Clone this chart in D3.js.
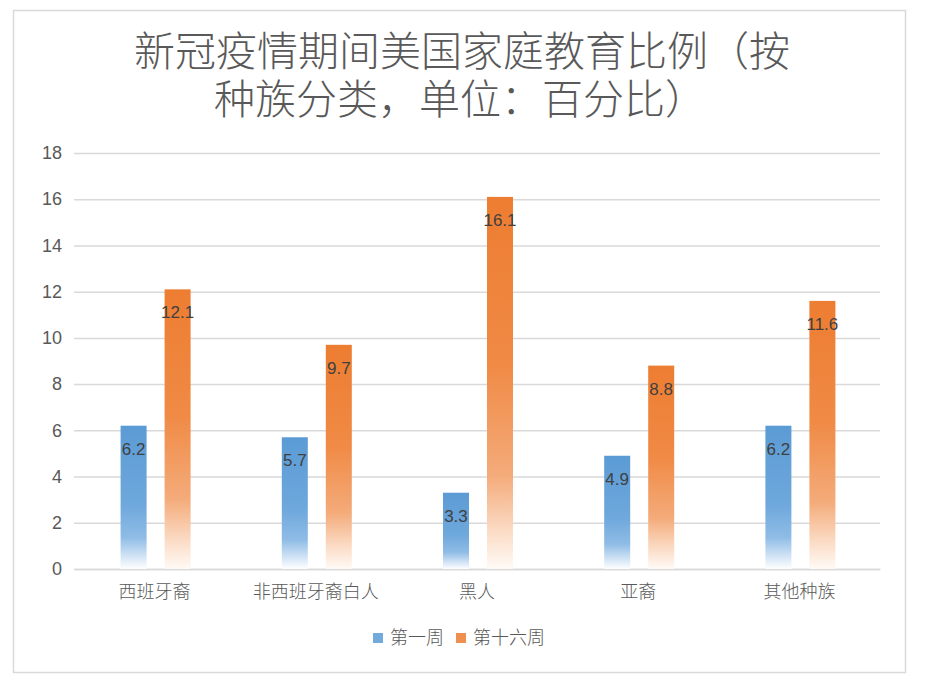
<!DOCTYPE html>
<html>
<head>
<meta charset="utf-8">
<script src="https://cdn.jsdelivr.net/npm/d3@7"></script>
<style>
  body { margin: 0; background: #fff; }
  svg { display: block; }
</style>
</head>
<body>
<svg id="chart" width="928" height="696"></svg>
<script>
// Chart data
const titleLines = ["新冠疫情期间美国家庭教育比例（按", "种族分类，单位：百分比）"];
const categories = ["西班牙裔", "非西班牙裔白人", "黑人", "亚裔", "其他种族"];
const seriesNames = ["第一周", "第十六周"];
const week1 = [6.2, 5.7, 3.3, 4.9, 6.2];
const week16 = [12.1, 9.7, 16.1, 8.8, 11.6];
const yTicks = [0, 2, 4, 6, 8, 10, 12, 14, 16, 18];

const seriesValues = [week1, week16];
const rows = categories.map((c, i) => ({ cat: c, values: seriesValues.map(s => s[i]) }));

const svg = d3.select("#chart");
const width = 928, height = 696;
const margin = { left: 74, right: 48, top: 153, bottom: 127 };

const cjk = "'Noto Sans CJK SC', 'Noto Sans', sans-serif";
const latin = "'Liberation Sans', 'DejaVu Sans', sans-serif";

// Outer frame
svg.append("rect")
    .attr("x", 13.5).attr("y", 10.5)
    .attr("width", 892).attr("height", 662)
    .attr("fill", "#fff")
    .attr("stroke", "#d9d9d9")
    .attr("stroke-width", 1.5);

// Gradients for the bars (fade to white at the bottom)
const defs = svg.append("defs");
const gradStops = [
    [[0, "#5b9bd5"], [0.55, "#6ea8dc"], [0.78, "#8fbce6"], [0.92, "#d6e6f6"], [1, "#ffffff"]],
    [[0, "#ed7d31"], [0.45, "#f08a45"], [0.75, "#f4ab7a"], [0.9, "#fbdcc6"], [1, "#fffaf6"]]
];
gradStops.forEach((stops, i) => {
    const g = defs.append("linearGradient")
        .attr("id", "grad" + i)
        .attr("x1", 0).attr("y1", 0).attr("x2", 0).attr("y2", 1);
    stops.forEach(s => g.append("stop").attr("offset", s[0]).attr("stop-color", s[1]));
});

// Scales
const x0 = d3.scaleBand()
    .domain(categories)
    .range([margin.left, width - margin.right])
    .padding(0);

const pairWidth = 70;
const x1 = d3.scaleBand()
    .domain(d3.range(seriesNames.length))
    .range([x0.bandwidth() / 2 - pairWidth / 2 + 1, x0.bandwidth() / 2 + pairWidth / 2 + 1])
    .paddingInner(18 / 44);

const y = d3.scaleLinear()
    .domain([0, 18])
    .range([height - margin.bottom, margin.top]);

// Title, two lines in one text element
const title = svg.append("text")
    .attr("text-anchor", "middle")
    .attr("font-family", cjk)
    .attr("font-size", 41)
    .attr("font-weight", 300)
    .attr("fill", "#595959");
title.selectAll("tspan")
    .data(titleLines)
    .join("tspan")
    .attr("x", (d, i) => i === 0 ? 462 : 460)
    .attr("y", (d, i) => 66 + i * 48)
    .text(d => d);

// Gridlines + y axis labels
const yAxis = d3.axisLeft(y)
    .tickValues(yTicks)
    .tickSize(-(width - margin.left - margin.right))
    .tickPadding(12);

const yg = svg.append("g")
    .attr("transform", `translate(${margin.left},0)`)
    .call(yAxis);
yg.select(".domain").remove();
yg.selectAll(".tick line")
    .attr("stroke", "#d9d9d9")
    .attr("stroke-width", 1.5);
yg.selectAll(".tick text")
    .attr("font-family", latin)
    .attr("font-size", 18)
    .attr("fill", "#595959");

// x axis labels
const xAxis = d3.axisBottom(x0).tickSize(0).tickPadding(16);
const xg = svg.append("g")
    .attr("transform", `translate(0,${height - margin.bottom})`)
    .call(xAxis);
xg.select(".domain")
    .attr("stroke", "#d9d9d9")
    .attr("stroke-width", 1.5);
xg.selectAll(".tick text")
    .attr("font-family", cjk)
    .attr("font-size", 18)
    .attr("font-weight", 300)
    .attr("fill", "#595959");

// Bars
const groups = svg.append("g")
    .selectAll("g")
    .data(rows)
    .join("g")
    .attr("transform", d => `translate(${x0(d.cat)},0)`);

groups.selectAll("rect")
    .data(d => d.values.map((v, i) => ({ v, i })))
    .join("rect")
    .attr("x", d => x1(d.i))
    .attr("width", x1.bandwidth())
    .attr("y", d => y(d.v))
    .attr("height", d => y(0) - y(d.v))
    .attr("fill", d => `url(#grad${d.i})`);

// Value labels
groups.selectAll("text")
    .data(d => d.values.map((v, i) => ({ v, i })))
    .join("text")
    .attr("x", d => x1(d.i) + x1.bandwidth() / 2)
    .attr("y", d => y(d.v) + 29)
    .attr("text-anchor", "middle")
    .attr("font-family", latin)
    .attr("font-size", 17)
    .attr("fill", "#404040")
    .text(d => d.v);

// Legend
const legendX = [373, 456];
const legendColors = ["#5b9bd5", "#ed7d31"];
const legend = svg.append("g")
    .selectAll("g")
    .data(seriesNames)
    .join("g")
    .attr("transform", (d, i) => `translate(${legendX[i]},633)`);

legend.append("rect")
    .attr("width", 10).attr("height", 10)
    .attr("fill", (d, i) => legendColors[i])
    .attr("opacity", 0.85);

legend.append("text")
    .attr("x", 17)
    .attr("y", 5)
    .attr("dy", "0.36em")
    .attr("font-family", cjk)
    .attr("font-size", 18)
    .attr("font-weight", 300)
    .attr("fill", "#595959")
    .text(d => d);
</script>
</body>
</html>
